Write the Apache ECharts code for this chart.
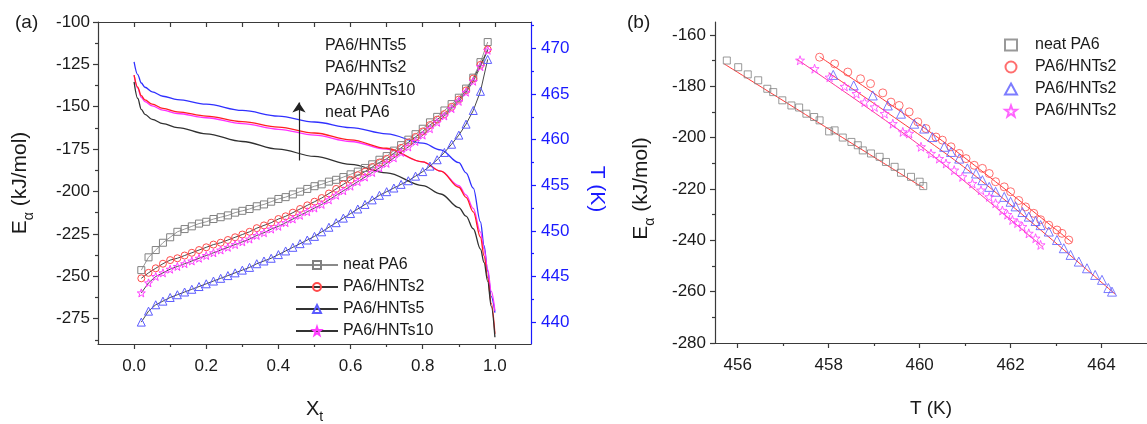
<!DOCTYPE html>
<html><head><meta charset="utf-8">
<script src="https://cdn.jsdelivr.net/npm/echarts@6.0.0/dist/echarts.min.js"></script>
<style>html,body{margin:0;padding:0;background:#fff}#c{width:1147px;height:424px}</style>
</head><body><div id="c"></div>
<script>
// ---------- Panel (a) data ----------
const xLine = [0,0.01,0.02,0.03,0.05,0.08,0.12,0.2,0.3,0.4,0.5,0.6,0.7,0.8,0.85,0.9,0.92,0.94,0.96,0.97,0.98,0.99,1.0];
const eLineH5  = [-123.5,-131,-136,-138.5,-141.2,-143.8,-145.8,-148.5,-152.2,-155.5,-159,-162.3,-166,-171.5,-175.5,-183,-189,-198,-218,-232,-247,-262,-271.5];
const eLineH2  = [-131.4,-138.5,-143.5,-146,-148.5,-151,-153,-155.5,-158.8,-162,-165.5,-169.5,-174.5,-182.5,-188,-197.5,-203.5,-212,-227,-238,-251,-266,-284];
const eLineH10 = [-131.4,-139,-144.5,-147,-149.5,-152,-154,-156.5,-160,-163.3,-166.8,-170.5,-175,-182.5,-188,-196.5,-202,-210,-224,-234,-246,-259,-270.5];
const eLineNeat= [-135.3,-145,-151.5,-154.5,-157.5,-160,-162.3,-166,-170.5,-175,-179.3,-184,-189,-196.5,-201.5,-209.5,-214.5,-222,-234,-242,-253,-268,-286];

const xSym = [0.02,0.04,0.06,0.08,0.10,0.12,0.14,0.16,0.18,0.20,0.22,0.24,0.26,0.28,0.30,0.32,0.34,0.36,0.38,0.40,0.42,0.44,0.46,0.48,0.50,0.52,0.54,0.56,0.58,0.60,0.62,0.64,0.66,0.68,0.70,0.72,0.74,0.76,0.78,0.80,0.82,0.84,0.86,0.88,0.90,0.92,0.94,0.96,0.98];
const tNeat = [445.7,447.1,447.9,448.7,449.3,449.9,450.2,450.5,450.8,451.0,451.3,451.5,451.7,452.0,452.2,452.4,452.7,452.9,453.2,453.5,453.7,454.0,454.3,454.6,454.9,455.1,455.4,455.6,455.9,456.2,456.5,456.9,457.3,457.8,458.2,458.8,459.4,460.0,460.6,461.2,461.9,462.5,463.2,463.9,464.6,465.6,466.8,468.5,470.7];
const tH2   = [444.8,445.4,445.9,446.4,446.8,447.0,447.3,447.6,447.9,448.2,448.5,448.7,449.0,449.3,449.6,449.9,450.3,450.6,450.9,451.3,451.6,452.0,452.4,452.8,453.2,453.6,454.1,454.6,455.1,455.6,456.1,456.5,457.0,457.5,457.9,458.5,459.1,459.7,460.3,460.9,461.6,462.2,462.8,463.6,464.4,465.4,466.7,468.2,469.9];
const tH5   = [440.0,441.2,441.9,442.3,442.7,443.0,443.3,443.6,443.9,444.2,444.5,444.8,445.1,445.4,445.7,446.0,446.4,446.7,447.0,447.4,447.8,448.2,448.6,449.0,449.4,449.9,450.4,450.9,451.4,451.9,452.4,452.9,453.4,453.9,454.3,454.7,455.1,455.5,456.0,456.5,457.1,457.8,458.6,459.5,460.5,461.7,463.2,465.3,468.8];
const tH10  = [443.2,444.3,445.0,445.4,445.8,446.1,446.4,446.7,447.0,447.3,447.6,447.9,448.2,448.5,448.8,449.1,449.5,449.8,450.2,450.5,450.9,451.3,451.7,452.1,452.5,452.9,453.4,453.9,454.4,454.9,455.4,455.9,456.4,456.9,457.4,458.0,458.6,459.2,459.8,460.5,461.2,461.9,462.6,463.4,464.2,465.2,466.4,468.0,469.8];

const legendA = ['neat PA6','PA6/HNTs2','PA6/HNTs5','PA6/HNTs10'];
const annotA  = ['PA6/HNTs5','PA6/HNTs2','PA6/HNTs10','neat PA6'];
const arrowA  = {x:0.457, from:-181.7, to:-147.5};

const xLabelsA = [0,0.2,0.4,0.6,0.8,1.0];
const xMinorA  = [0.1,0.3,0.5,0.7,0.9];
const xTopA    = [0,0.1,0.2,0.3,0.4,0.5,0.6,0.7,0.8,0.9,1.0];
const eLabelsA = [-275,-250,-225,-200,-175,-150,-125,-100];
const eMinorA  = [-287.5,-262.5,-237.5,-212.5,-187.5,-162.5,-137.5,-112.5];
const tLabelsA = [440,445,450,455,460,465,470];
const tMinorA  = [442.5,447.5,452.5,457.5,462.5,467.5,472.5];

// ---------- Panel (b) data ----------
const bNeatT = [455.76,456.01,456.22,456.45,456.65,456.78,456.98,457.18,457.35,457.51,457.68,457.80,458.01,458.13,458.31,458.50,458.64,458.75,458.93,459.12,459.26,459.45,459.59,459.81,460.00,460.08];
const bNeatE = [-170.0,-172.6,-175.4,-177.7,-181.0,-182.3,-185.5,-187.5,-188.3,-190.7,-192.0,-193.3,-197.6,-197.2,-200.0,-201.7,-203.0,-205.0,-206.2,-207.5,-209.5,-211.4,-213.7,-215.3,-217.2,-218.9];
const bH2T = [457.80,458.13,458.42,458.70,458.92,459.19,459.37,459.55,459.77,459.96,460.14,460.36,460.50,460.69,460.87,461.02,461.20,461.38,461.53,461.67,461.86,462.00,462.18,462.33,462.51,462.66,462.84,463.02,463.13,463.28];
const bH2E = [-168.7,-171.3,-174.5,-177.1,-179.0,-182.6,-186.2,-187.5,-190.0,-193.9,-196.5,-199.8,-201.0,-203.6,-206.2,-208.2,-210.8,-212.0,-214.0,-217.2,-219.2,-221.1,-224.5,-227.0,-229.5,-232.0,-234.1,-236.0,-237.3,-239.9];
const bH5T = [458.10,458.55,458.97,459.30,459.59,459.88,460.10,460.28,460.54,460.69,460.87,461.05,461.24,461.38,461.53,461.67,461.86,462.00,462.11,462.26,462.40,462.55,462.66,462.84,463.02,463.17,463.32,463.50,463.68,463.86,464.01,464.15,464.23];
const bH5E = [-175.6,-179.7,-183.6,-187.5,-190.7,-194.6,-196.5,-199.8,-203.6,-205.6,-208.2,-212.0,-214.0,-216.6,-219.2,-221.1,-223.1,-225.0,-226.8,-229.0,-230.8,-232.5,-234.1,-236.6,-239.9,-243.1,-245.7,-248.3,-250.9,-253.5,-255.4,-258.6,-260.0];
const bH10T = [457.37,457.69,458.02,458.35,458.61,458.79,459.01,459.23,459.41,459.63,459.77,460.03,460.25,460.43,460.58,460.76,460.94,461.16,461.35,461.53,461.67,461.82,461.93,462.04,462.15,462.26,462.40,462.55,462.66];
const bH10E = [-169.9,-173.2,-176.5,-180.1,-182.9,-186.2,-188.1,-190.7,-194.6,-197.8,-198.4,-203.6,-206.2,-208.2,-210.1,-212.7,-215.3,-217.9,-220.5,-223.1,-225.6,-228.4,-230.0,-232.1,-233.3,-234.7,-237.3,-239.2,-241.8];
const fitNeatT = [455.7,460.1],        fitNeatE = [-171.3,-219.8];
const fitH2T   = [457.8,460.5,463.35], fitH2E   = [-168.5,-201.3,-240.8];
const fitH5T   = [458.0,461.05,464.3], fitH5E   = [-174.8,-212.5,-261.0];
const fitH10T  = [457.3,460.0,462.7],  fitH10E  = [-169.5,-203.0,-242.5];
const legendB  = ['neat PA6','PA6/HNTs2','PA6/HNTs2','PA6/HNTs2'];

const xLabelsB = [456,458,460,462,464];
const xMinorB  = [457,459,461,463];
const eLabelsB = [-280,-260,-240,-220,-200,-180,-160];
const eMinorB  = [-270,-250,-230,-210,-190,-170];

// ---------- styling ----------
const FONT = 'Liberation Sans, Arial, sans-serif';
const INK = '#1a1a1a', AX = '#3a3a3a', BLUE = '#1a1aff';
const C_SQ = '#808080', C_CI = '#ff4a4a', C_TR = '#5b5bff', C_ST = '#ff3cff';
const STAR = 'path://M0,-100L23.5,-32.4L95.1,-30.9L38,12.4L58.8,80.9L0,40L-58.8,80.9L-38,12.4L-95.1,-30.9L-23.5,-32.4Z';
const zip = (a,b) => a.map((v,i)=>[v,b[i]]);
const fmt1 = v => Number(v).toFixed(1);
function mkRich(size,color){
  return {
    b:{fontSize:size,fontFamily:FONT,color,verticalAlign:'top',lineHeight:size+1},
    s:{fontSize:Math.round(size*0.68),fontFamily:FONT,color,verticalAlign:'bottom',lineHeight:size+5},
    p:{fontSize:size,width:12,verticalAlign:'top',lineHeight:size+1}
  };
}

function valAxis(o){
  const base = {
    type:'value', min:o.min, max:o.max, position:o.pos, gridIndex:o.grid,
    splitLine:{show:false},
    axisLine:{show:o.line!==false, onZero:false, lineStyle:{color:o.color||AX,width:1.2}},
    axisTick:{show:true, inside:!!o.inside, length:o.len||5, customValues:o.ticks, lineStyle:{color:o.color||AX,width:1.2}},
    axisLabel:o.labels?{show:true, customValues:o.labels, formatter:o.fmt, fontSize:17, fontFamily:FONT, color:o.lcolor||INK, margin:o.margin}:{show:false},
  };
  if(o.name){Object.assign(base,{name:o.name,nameLocation:'middle',nameGap:o.gap,nameRotate:o.rot,
    nameTextStyle:{rich:mkRich(o.nsize||20,o.lcolor||INK),color:o.lcolor||INK}});}
  return base;
}

const xAxis = [
  valAxis({grid:0,pos:'bottom',min:-0.1,max:1.1,ticks:xLabelsA,labels:xLabelsA,fmt:fmt1,margin:14,name:'{b|X}{s|t}',gap:55,rot:0,nsize:20}),
  valAxis({grid:0,pos:'bottom',min:-0.1,max:1.1,ticks:xMinorA,len:3,line:false}),
  valAxis({grid:0,pos:'top',min:-0.1,max:1.1,ticks:xTopA,inside:true}),
  valAxis({grid:1,pos:'bottom',min:455.5,max:465,ticks:xLabelsB,labels:xLabelsB,margin:14,name:'{b|T (K)}',gap:56,rot:0,nsize:19}),
  valAxis({grid:1,pos:'bottom',min:455.5,max:465,ticks:xMinorB,len:3,line:false})
];
const yAxis = [
  valAxis({grid:0,pos:'left',min:-290,max:-100,ticks:eLabelsA,labels:eLabelsA,margin:8,name:'{b|E}{s|α}{b| (kJ/mol)}',gap:62,rot:90,nsize:21}),
  valAxis({grid:0,pos:'left',min:-290,max:-100,ticks:eMinorA,len:3,line:false}),
  valAxis({grid:0,pos:'right',min:437.6,max:472.9,ticks:tLabelsA,labels:tLabelsA,margin:10,color:BLUE,lcolor:BLUE,name:'{p| }{b|T (K)}',gap:54,rot:-90,nsize:21}),
  valAxis({grid:0,pos:'right',min:437.6,max:472.9,ticks:tMinorA,len:3,line:false,color:BLUE}),
  valAxis({grid:1,pos:'left',min:-280,max:-155,ticks:eLabelsB,labels:eLabelsB,margin:9,name:'{b|E}{s|α}{b| (kJ/mol)}{p| }',gap:58,rot:90,nsize:21}),
  valAxis({grid:1,pos:'left',min:-280,max:-155,ticks:eMinorB,len:3,line:false})
];

function eLine(name,ys,color,extra){
  return Object.assign({type:'line',name,xAxisIndex:0,yAxisIndex:0,data:zip(xLine,ys),showSymbol:false,
    smooth:0.35,smoothMonotone:'x',lineStyle:{color,width:1.3},itemStyle:{color},z:3},extra||{});
}
function symLine(name,ys,symbol,color,lineColor,size){
  return {type:'line',name,xAxisIndex:0,yAxisIndex:2,data:zip(xSym,ys),symbol,symbolSize:size,showSymbol:true,
    lineStyle:{color:lineColor,width:0.9},itemStyle:{color:'rgba(255,255,255,0)',borderColor:color,borderWidth:1},z:4};
}
function scat(name,xs,ys,symbol,color,size){
  return {type:'scatter',name,xAxisIndex:3,yAxisIndex:4,data:zip(xs,ys),symbol,symbolSize:size,
    itemStyle:{color:'rgba(255,255,255,0)',borderColor:color,borderWidth:1},z:4};
}
function fit(name,xs,ys,color){
  return {type:'line',name,xAxisIndex:3,yAxisIndex:4,data:zip(xs,ys),showSymbol:false,smooth:0.3,
    lineStyle:{color,width:1},itemStyle:{color},z:3};
}

const series = [
  eLine('E-HNTs5',eLineH5,'#3030ff'),
  eLine('E-HNTs10',eLineH10,'#ff30ff'),
  eLine('E-HNTs2',eLineH2,'#ff2020'),
  eLine('E-neat',eLineNeat,'#303030',{markLine:{silent:true,symbol:['none','arrow'],symbolSize:10,
     lineStyle:{color:'#222',type:'solid',width:1.2},label:{show:false},emphasis:{disabled:true},
     data:[[{coord:[arrowA.x,arrowA.from]},{coord:[arrowA.x,arrowA.to]}]]}}),
  symLine(legendA[0],tNeat,'rect',C_SQ,'#8a8a8a',7),
  symLine(legendA[1],tH2,'circle',C_CI,'#333',7),
  symLine(legendA[2],tH5,'triangle',C_TR,'#333',8),
  symLine(legendA[3],tH10,STAR,C_ST,'#333',8),
  fit('fit0',fitNeatT,fitNeatE,'#ff3b3b'),
  fit('fit1',fitH2T,fitH2E,'#ff3b3b'),
  fit('fit2',fitH5T,fitH5E,'#ff3b3b'),
  fit('fit3',fitH10T,fitH10E,'#ff3399'),
  scat('b0',bNeatT,bNeatE,'rect',C_SQ,7),
  scat('b1',bH2T,bH2E,'circle',C_CI,8),
  scat('b2',bH5T,bH5E,'triangle',C_TR,9),
  scat('b3',bH10T,bH10E,STAR,C_ST,9)
];

const option = {
  animation:false,
  backgroundColor:'#fff',
  grid:[{left:98,top:22,width:433,height:322,containLabel:false,outerBoundsMode:'none'},
        {left:715,top:22,right:0,height:321,containLabel:false,outerBoundsMode:'none'}],
  xAxis, yAxis, series,
  legend:[
    {data:legendA,orient:'vertical',left:290,top:251,itemWidth:42,itemHeight:10,itemGap:4,
     textStyle:{fontSize:16,fontFamily:FONT,color:INK,lineHeight:18},selectedMode:false},
    {data:['b0','b1','b2','b3'],formatter:n=>legendB[Number(n.slice(1))],orient:'vertical',left:999,top:31,
     itemWidth:12,itemHeight:11,itemGap:4,textStyle:{fontSize:16,fontFamily:FONT,color:INK,lineHeight:18,padding:[0,0,0,13]},selectedMode:false}
  ],
  graphic:[
    {type:'text',left:325,top:34,style:{text:annotA.join('\n'),fontSize:16,fontFamily:FONT,fill:INK,lineHeight:22.5}},
    {type:'text',left:15,top:13,style:{text:'(a)',fontSize:19,fontFamily:FONT,fill:INK}},
    {type:'text',left:627,top:13,style:{text:'(b)',fontSize:19,fontFamily:FONT,fill:INK}}
  ]
};
echarts.init(document.getElementById('c'),null,{renderer:'canvas'}).setOption(option);
</script></body></html>
